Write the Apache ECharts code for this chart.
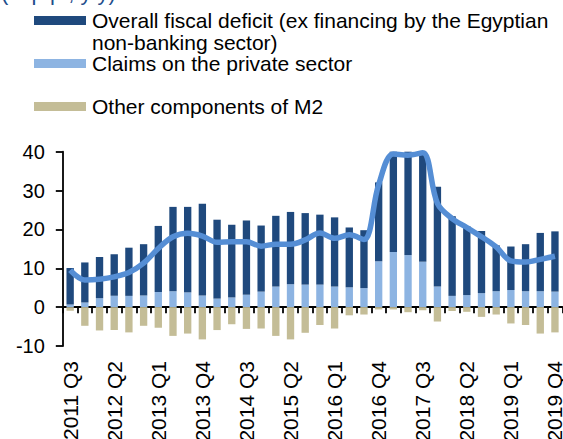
<!DOCTYPE html>
<html>
<head>
<meta charset="utf-8">
<script src="https://cdn.jsdelivr.net/npm/echarts@6/dist/echarts.min.js"></script>
<style>
  html, body { margin: 0; padding: 0; background: #ffffff; overflow: hidden; }
  #chart { width: 563px; height: 439px; }
</style>
</head>
<body>
<div id="chart"></div>
<script>
// Quarterly contributions to broad money (M2) growth, percentage points y/y
const quarters = [
  '2011 Q3', '2011 Q4',
  '2012 Q1', '2012 Q2', '2012 Q3', '2012 Q4',
  '2013 Q1', '2013 Q2', '2013 Q3', '2013 Q4',
  '2014 Q1', '2014 Q2', '2014 Q3', '2014 Q4',
  '2015 Q1', '2015 Q2', '2015 Q3', '2015 Q4',
  '2016 Q1', '2016 Q2', '2016 Q3', '2016 Q4',
  '2017 Q1', '2017 Q2', '2017 Q3', '2017 Q4',
  '2018 Q1', '2018 Q2', '2018 Q3', '2018 Q4',
  '2019 Q1', '2019 Q2', '2019 Q3', '2019 Q4'
];

const fiscalDeficit = [
  9.4, 10.3, 10.6, 10.7, 12.4, 13.2, 17.0, 21.7, 22.0, 23.6,
  20.3, 18.7, 19.1, 17.0, 18.2, 18.6, 18.4, 18.0, 17.8, 15.4,
  14.9, 20.3, 25.8, 27.0, 28.7, 25.7, 20.5, 17.7, 16.0, 11.8,
  11.2, 12.1, 15.0, 15.5
];

const privateClaims = [
  0.7, 1.2, 2.3, 2.9, 2.9, 3.0, 3.9, 4.1, 3.8, 3.0,
  2.2, 2.5, 3.2, 4.0, 5.3, 5.9, 5.8, 5.8, 5.3, 5.1,
  4.9, 11.8, 14.2, 13.4, 11.7, 5.3, 2.9, 3.1, 3.6, 4.1,
  4.4, 4.1, 4.1, 4.0
];

const otherM2 = [
  -0.9, -4.8, -6.0, -5.9, -6.5, -4.8, -5.3, -7.4, -6.8, -8.3,
  -5.9, -4.4, -5.6, -5.5, -7.4, -8.3, -6.6, -4.6, -5.5, -2.1,
  -1.9, -0.6, -0.6, -1.3, -0.8, -3.7, -1.0, -1.2, -2.5, -1.9,
  -4.2, -4.6, -6.8, -6.5
];

const m2Growth = [
  9.5, 7.0, 7.2, 7.8, 8.9, 11.3, 15.1, 18.1, 19.0, 18.3,
  16.7, 16.8, 16.8, 15.7, 16.2, 16.2, 17.3, 19.1, 17.7, 18.6,
  17.4, 31.5, 39.4, 39.1, 39.7, 26.7, 22.8, 20.5, 18.1, 15.5,
  11.9, 11.6, 12.3, 13.1
];

const legendNames = [
  'Overall fiscal deficit (ex financing by the Egyptian',
  'non-banking sector)',
  'Claims on the private sector',
  'Other components of M2'
];

const FONT = '"Liberation Sans", Arial, sans-serif';
const NAVY = '#1F497D';
const SKY = '#8DB4E2';
const TAN = '#C4BD97';
const LINE = '#558ED5';

const chart = echarts.init(document.getElementById('chart'), null, { renderer: 'svg' });

function legendText(str, y) {
  return {
    type: 'text', x: 92, y: y,
    style: { text: str, font: '21px ' + FONT, fill: '#000', verticalAlign: 'middle' }
  };
}

chart.setOption({
  animation: false,
  backgroundColor: '#ffffff',
  textStyle: { fontFamily: FONT },
  grid: {
    left: 62.8, right: 0.7, top: 151.7, height: 194.3,
    containLabel: false,
    outerBoundsMode: 'none'
  },
  graphic: [
    { type: 'text', x: 1, y: -8,
      style: { text: '(in p.p., y/y)', font: '22px ' + FONT, fill: '#1F4E8C', verticalAlign: 'middle' } },
    { type: 'rect', shape: { x: 34, y: 16, width: 52, height: 9 }, style: { fill: NAVY } },
    legendText(legendNames[0], 20.5),
    legendText(legendNames[1], 42),
    { type: 'rect', shape: { x: 34, y: 59, width: 52, height: 9 }, style: { fill: SKY } },
    legendText(legendNames[2], 63),
    { type: 'rect', shape: { x: 34, y: 102, width: 52, height: 9 }, style: { fill: TAN } },
    legendText(legendNames[3], 106)
  ],
  xAxis: [
    {
      // zero line with a tick between every quarter
      type: 'category',
      data: quarters,
      position: 'top',
      boundaryGap: true,
      axisLine: { onZero: true, lineStyle: { color: '#000', width: 1.8 } },
      axisTick: { show: true, inside: true, length: 6, interval: 0, lineStyle: { color: '#000', width: 1.8 } },
      axisLabel: { show: false },
      splitLine: { show: false }
    },
    {
      // quarter labels along the bottom edge
      type: 'category',
      data: quarters,
      position: 'bottom',
      boundaryGap: true,
      axisLine: { show: false, onZero: false },
      axisTick: { show: false },
      axisLabel: {
        show: true, interval: 2, rotate: 90, margin: 15,
        fontSize: 21, color: '#000', fontFamily: FONT
      },
      splitLine: { show: false }
    }
  ],
  yAxis: {
    type: 'value',
    min: -10,
    max: 40,
    interval: 10,
    axisLine: { show: true, lineStyle: { color: '#000', width: 1.8 } },
    axisTick: { show: true, length: 7, lineStyle: { color: '#000', width: 1.8 } },
    axisLabel: { fontSize: 20, color: '#000', margin: 18, fontFamily: FONT },
    splitLine: { show: false }
  },
  series: [
    {
      name: legendNames[2],
      type: 'bar',
      stack: 'm2',
      xAxisIndex: 0,
      barWidth: '50%',
      itemStyle: { color: SKY },
      data: privateClaims
    },
    {
      name: legendNames[0] + ' ' + legendNames[1],
      type: 'bar',
      stack: 'm2',
      xAxisIndex: 0,
      barWidth: '50%',
      itemStyle: { color: NAVY },
      data: fiscalDeficit
    },
    {
      name: legendNames[3],
      type: 'bar',
      stack: 'm2',
      xAxisIndex: 0,
      barWidth: '50%',
      itemStyle: { color: TAN },
      data: otherM2
    },
    {
      name: 'M2',
      type: 'line',
      xAxisIndex: 0,
      smooth: 0.35,
      symbol: 'none',
      lineStyle: { color: LINE, width: 5.5 },
      z: 5,
      data: m2Growth
    }
  ]
});
</script>
</body>
</html>
